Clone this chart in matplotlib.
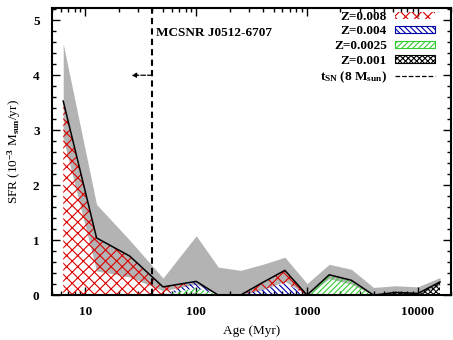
import numpy as np
import matplotlib
matplotlib.use("Agg")
import matplotlib.pyplot as plt
from matplotlib.patches import Patch
from matplotlib.lines import Line2D
from matplotlib.ticker import MultipleLocator, LogLocator, NullFormatter

plt.rcParams['font.family'] = ['Liberation Serif', 'DejaVu Serif']
plt.rcParams['font.weight'] = 'bold'
plt.rcParams['mathtext.fontset'] = 'custom'
plt.rcParams['mathtext.rm'] = 'Liberation Serif:bold'
plt.rcParams['mathtext.it'] = 'Liberation Serif:italic:bold'
plt.rcParams['mathtext.bf'] = 'Liberation Serif:bold'
plt.rcParams['hatch.linewidth'] = 0.8

# age bins (Myr) and SFR in 1e-3 Msun/yr
age = [6.3, 12.6, 25.1, 50.1, 100, 158, 251, 398, 631, 1000,
       1585, 2512, 3981, 6310, 10000, 15849]
sfr_total = [3.53, 1.04, 0.71, 0.15, 0.25, 0.0, 0.0, 0.23, 0.45, 0.0,
             0.37, 0.27, 0.0, 0.05, 0.03, 0.24]
sfr_upper = [4.57, 1.65, 1.00, 0.31, 1.08, 0.51, 0.45, 0.56, 0.69, 0.21,
             0.56, 0.47, 0.14, 0.17, 0.15, 0.32]
sfr_lower = [2.85, 0.44, 0.33, 0.08, 0.20, 0.0, 0.0, 0.10, 0.25, 0.0,
             0.30, 0.20, 0.0, 0.02, 0.01, 0.18]

# per-metallicity components (stacked from the bottom)
z001  = [0, 0, 0, 0, 0.03, 0, 0, 0.0, 0.0, 0, 0.0, 0.0, 0, 0.05, 0.03, 0.24]
z0025 = [0, 0, 0, 0, 0.10, 0, 0, 0.02, 0.02, 0, 0.36, 0.27, 0, 0, 0, 0]
z004  = [0, 0, 0, 0, 0.12, 0, 0, 0.08, 0.20, 0, 0.01, 0.0, 0, 0, 0, 0]
z008  = [3.53, 1.04, 0.71, 0.15, 0.0, 0, 0, 0.13, 0.23, 0, 0, 0, 0, 0, 0, 0]

t_sn = 40.0          # Myr, lifetime of an 8 Msun star
arrow_to = 26.0
snr_name = "MCSNR J0512-6707"

fig = plt.figure(figsize=(4.53, 3.40), dpi=100)
ax = fig.add_axes([0.115, 0.132, 0.881, 0.844])

ax.fill_between(age, sfr_lower, sfr_upper, color='#b3b3b3', lw=0, zorder=1)

layers = [
    (z001, 'black', 'xxxxxx'),
    (z0025, '#33cc33', '//////'),
    (z004, '#0000aa', '\\\\\\\\\\\\'),
    (z008, '#dd0000', 'xxx'),
]
base = np.zeros(len(age))
for vals, col, hat in layers:
    top = base + np.array(vals)
    ax.fill_between(age, base, top, facecolor='none', edgecolor=col,
                    hatch=hat, lw=0, zorder=2)
    base = top

ax.plot(age, sfr_total, color='black', lw=1.1, zorder=3)

ax.axvline(t_sn, color='black', ls=(0, (3, 2)), lw=1.5, zorder=4)
ax.annotate('', xy=(arrow_to, 4.0), xytext=(t_sn, 4.0),
            arrowprops=dict(arrowstyle='-|>', ls='--', lw=0.9, color='black',
                            mutation_scale=7, shrinkA=0, shrinkB=0))
ax.text(43.5, 4.76, snr_name, fontsize=9.5, va='center', ha='left')

ax.set_xscale('log')
ax.set_xlim(5, 20000)
ax.set_ylim(0, 5.22)
ax.set_xticks([10, 100, 1000, 10000])
ax.set_xticklabels(['10', '100', '1000', '10000'])
ax.xaxis.set_minor_locator(LogLocator(base=10, subs=np.arange(2, 10)))
ax.xaxis.set_minor_formatter(NullFormatter())
ax.yaxis.set_major_locator(MultipleLocator(1))
ax.yaxis.set_minor_locator(MultipleLocator(0.2))
ax.tick_params(which='both', direction='in', top=True, right=True,
               labelsize=9.5, width=1.0)
ax.tick_params(which='major', length=6)
ax.tick_params(axis='x', which='major', pad=8)
ax.tick_params(axis='y', which='major', pad=9)
ax.tick_params(which='minor', length=3)
for s in ax.spines.values():
    s.set_linewidth(1.5)

ax.set_xlabel('Age (Myr)', fontsize=9.5, labelpad=5)
ax.set_ylabel(r'SFR (10$^{-3}$ M$_{\rm sun}$/yr)', fontsize=9.5, labelpad=7)

handles = [
    Patch(facecolor='none', edgecolor='#dd0000', hatch='xxx', lw=0),
    Patch(facecolor='none', edgecolor='#0000aa', hatch='\\\\\\\\\\\\', lw=0.8),
    Patch(facecolor='none', edgecolor='#33cc33', hatch='//////', lw=0.8),
    Patch(facecolor='none', edgecolor='black', hatch='xxxxxx', lw=0.8),
    Line2D([], [], color='black', ls='--', lw=0.9),
]
labels = ['Z=0.008', 'Z=0.004', 'Z=0.0025', 'Z=0.001',
          r't$_{\rm SN}$ (8 M$_{\rm sun}$)']
ax.legend(handles, labels, loc='upper right', bbox_to_anchor=(0.965, 1.0),
          frameon=False, markerfirst=False, fontsize=9.5,
          handlelength=3.0, handleheight=0.45, labelspacing=0.2,
          handletextpad=0.6, borderaxespad=0.1, borderpad=0.1)

fig.savefig('out.png', dpi=100)
